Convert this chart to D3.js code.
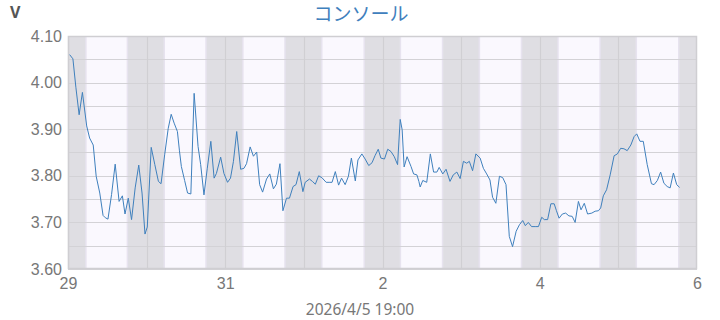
<!DOCTYPE html>
<html>
<head>
<meta charset="utf-8">
<script src="https://cdn.jsdelivr.net/npm/d3@7"></script>
<style>
  body { margin: 0; background: #fff; }
  svg { display: block; font-family: "Noto Sans", "DejaVu Sans", sans-serif; }
</style>
</head>
<body>
<div id="chart"></div>
<script>
// hours since 2026-03-29 00:00 and voltage readings
var hours = [0.5, 1.5, 2.4, 3.4, 4.4, 5.7, 6.6, 7.7, 8.6, 9.7, 10.7, 11.4, 12.2, 13.3, 14.4, 15.6, 16.6, 17.4, 18.4, 19.4,
  20.5, 21.6, 22.6, 23.5, 24.2, 25.4, 26.5, 27.6, 28.4, 29.5, 30.6, 31.5, 32.4, 33.4, 34.0, 34.6, 35.6, 36.5, 37.5, 38.5,
  39.7, 40.5, 41.5, 42.5, 43.6, 44.6, 45.3, 46.6, 47.6, 48.7, 49.6, 50.5, 51.5, 52.7, 53.7, 54.5, 55.6, 56.6, 57.6, 58.5,
  59.4, 60.6, 61.6, 62.7, 63.6, 64.7, 65.6, 66.7, 67.6, 68.7, 69.6, 70.6, 71.7, 72.4, 73.7, 74.6, 75.5, 76.5, 77.5, 78.8,
  79.7, 80.6, 81.6, 82.6, 83.5, 84.6, 85.6, 86.5, 87.7, 88.5, 89.7, 90.7, 91.8, 92.8, 93.7, 94.7, 95.5, 96.6, 97.6, 98.6,
  99.6, 100.6, 101.4, 102.0, 102.6, 103.5, 104.7, 105.5, 106.5, 107.1, 107.5, 108.3, 109.5, 110.6, 111.6, 112.6, 113.3, 114.4, 115.4, 116.6,
  117.6, 118.7, 119.7, 120.7, 121.7, 122.5, 123.5, 124.5, 125.8, 126.8, 127.8, 128.8, 129.6, 130.6, 131.7, 132.7, 133.7, 134.7, 135.7, 136.8,
  137.8, 138.8, 139.6, 140.5, 141.5, 142.6, 143.6, 144.6, 145.4, 146.4, 147.4, 148.4, 149.1, 149.9, 150.9, 151.9, 152.9, 153.9, 154.8, 155.8,
  156.6, 157.6, 158.6, 159.9, 160.9, 161.9, 162.6, 163.4, 164.4, 165.5, 166.7, 167.7, 168.7, 169.7, 170.7, 171.8, 172.8, 173.6, 174.6, 175.6,
  176.8, 178.1, 178.9, 179.9, 180.9, 181.9, 182.9, 183.8, 184.8, 185.8, 186.7];
var volts = [4.060, 4.051, 3.990, 3.931, 3.979, 3.907, 3.881, 3.866, 3.799, 3.763, 3.715, 3.710, 3.707, 3.760, 3.825, 3.745, 3.757, 3.718, 3.752, 3.706,
  3.774, 3.823, 3.763, 3.675, 3.690, 3.861, 3.824, 3.788, 3.783, 3.845, 3.902, 3.932, 3.913, 3.895, 3.855, 3.820, 3.790, 3.763, 3.761, 3.977,
  3.863, 3.824, 3.759, 3.815, 3.874, 3.795, 3.805, 3.840, 3.805, 3.786, 3.795, 3.831, 3.895, 3.814, 3.816, 3.826, 3.862, 3.842, 3.851, 3.781,
  3.765, 3.793, 3.804, 3.772, 3.782, 3.826, 3.725, 3.752, 3.752, 3.777, 3.781, 3.809, 3.766, 3.786, 3.793, 3.788, 3.782, 3.800, 3.796, 3.786,
  3.786, 3.786, 3.809, 3.780, 3.795, 3.781, 3.799, 3.838, 3.789, 3.834, 3.847, 3.836, 3.822, 3.828, 3.843, 3.857, 3.838, 3.836, 3.857, 3.852,
  3.841, 3.824, 3.921, 3.899, 3.819, 3.841, 3.820, 3.804, 3.802, 3.788, 3.776, 3.790, 3.786, 3.847, 3.808, 3.808, 3.818, 3.804, 3.814, 3.788,
  3.802, 3.808, 3.794, 3.831, 3.827, 3.831, 3.811, 3.847, 3.838, 3.816, 3.804, 3.791, 3.754, 3.741, 3.799, 3.796, 3.781, 3.670, 3.648, 3.681,
  3.695, 3.704, 3.693, 3.700, 3.691, 3.691, 3.691, 3.711, 3.706, 3.706, 3.740, 3.740, 3.725, 3.709, 3.718, 3.720, 3.714, 3.713, 3.700, 3.745,
  3.727, 3.741, 3.718, 3.720, 3.724, 3.725, 3.731, 3.757, 3.770, 3.802, 3.843, 3.847, 3.859, 3.858, 3.854, 3.866, 3.884, 3.890, 3.874, 3.874,
  3.824, 3.783, 3.781, 3.790, 3.808, 3.784, 3.777, 3.774, 3.806, 3.781, 3.775];

// sunrise / sunset (hour of day) for 3/29 .. 4/5
var sunrise = [5.7, 5.6, 5.6, 5.7, 5.7, 5.8, 5.8, 5.7];
var sunset = [17.9, 17.9, 18.0, 18.2, 18.1, 18.2, 18.2, 18.2];

var yTicks = [3.6, 3.7, 3.8, 3.9, 4.0, 4.1];
var xTickDays = [0, 2, 4, 6, 8];
var title = "コンソール";
var unit = "V";
var stamp = "2026/4/5 19:00";

var W = 720, H = 320;
var margin = {top: 36, right: 23, bottom: 51, left: 68};
var start = Date.UTC(2026, 2, 29);
var HOUR = 3600e3;

var x = d3.scaleUtc()
    .domain([new Date(start), new Date(start + 8 * 24 * HOUR)])
    .range([margin.left, W - margin.right]);
var y = d3.scaleLinear()
    .domain([3.6, 4.1])
    .range([H - margin.bottom, margin.top]);

var svg = d3.select("#chart").append("svg")
    .attr("width", W)
    .attr("height", H);

var data = hours.map(function (h, i) { return {t: new Date(start + h * HOUR), v: volts[i]}; });

//night background
svg.append("rect")
    .attr("x", x.range()[0]).attr("y", y.range()[1])
    .attr("width", x.range()[1] - x.range()[0])
    .attr("height", y.range()[0] - y.range()[1])
    .attr("fill", "#dfdee3");

//twilight + daytime bands
var days = sunrise.map(function (s, i) { return {rise: start + (i * 24 + s) * HOUR, set: start + (i * 24 + sunset[i]) * HOUR}; });
svg.selectAll("rect.twi").data(days).enter().append("rect")
    .attr("class", "twi")
    .attr("x", function (d) { return x(new Date(d.rise - 0.45 * HOUR)); })
    .attr("width", function (d) { return x(new Date(d.set + 0.45 * HOUR)) - x(new Date(d.rise - 0.45 * HOUR)); })
    .attr("y", y.range()[1]).attr("height", y.range()[0] - y.range()[1])
    .attr("fill", "#e7e3ef");
svg.selectAll("rect.day").data(days).enter().append("rect")
    .attr("class", "day")
    .attr("x", function (d) { return x(new Date(d.rise)); })
    .attr("width", function (d) { return x(new Date(d.set)) - x(new Date(d.rise)); })
    .attr("y", y.range()[1]).attr("height", y.range()[0] - y.range()[1])
    .attr("fill", "#faf8fe");

//grid
var hLines = d3.range(3.6, 4.1001, 0.05);
svg.append("g").selectAll("line").data(hLines).enter().append("line")
    .attr("x1", x.range()[0]).attr("x2", x.range()[1])
    .attr("y1", function (d) { return Math.round(y(d)) + 0.5; })
    .attr("y2", function (d) { return Math.round(y(d)) + 0.5; })
    .attr("stroke", "#d3d2d6").attr("stroke-width", 1.2);
var vLines = d3.utcDay.range(x.domain()[0], x.domain()[1]);
svg.append("g").selectAll("line").data(vLines).enter().append("line")
    .attr("x1", function (d) { return Math.round(x(d)) + 0.5; })
    .attr("x2", function (d) { return Math.round(x(d)) + 0.5; })
    .attr("y1", y.range()[1]).attr("y2", y.range()[0])
    .attr("stroke", "#d0cfd3").attr("stroke-width", 1.2);

//frame
svg.append("rect")
    .attr("x", x.range()[0] + 0.5).attr("y", y.range()[1] + 0.5)
    .attr("width", x.range()[1] - x.range()[0] - 1)
    .attr("height", y.range()[0] - y.range()[1] - 1)
    .attr("fill", "none").attr("stroke", "#cfced2").attr("stroke-width", 1.5);

//line
svg.append("path")
    .datum(data)
    .attr("fill", "none")
    .attr("stroke", "#3f80bd")
    .attr("stroke-width", 1)
    .attr("d", d3.line().x(function (d) { return x(d.t); }).y(function (d) { return y(d.v); }));

//axes
var yAxis = svg.append("g")
    .attr("transform", "translate(" + margin.left + ",0)")
    .call(d3.axisLeft(y).tickValues(yTicks).tickFormat(d3.format(".2f")).tickSize(0).tickPadding(6));
var xAxis = svg.append("g")
    .attr("transform", "translate(0," + (H - margin.bottom) + ")")
    .call(d3.axisBottom(x)
        .tickValues(xTickDays.map(function (d) { return new Date(start + d * 24 * HOUR); }))
        .tickFormat(d3.utcFormat("%-d")).tickSize(0).tickPadding(9));
[yAxis, xAxis].forEach(function (g) {
    g.select(".domain").remove();
    g.selectAll("text").attr("fill", "#777").style("font-size", "16px");
});

//labels
svg.append("text").attr("x", 10).attr("y", 18)
    .attr("fill", "#555").style("font-size", "16px").style("font-weight", "bold")
    .text(unit);
svg.append("text").attr("x", 361).attr("y", 21).attr("text-anchor", "middle")
    .attr("fill", "#3f80bd").style("font-size", "19px")
    .style("font-family", "'Noto Sans CJK JP', sans-serif")
    .text(title);
svg.append("text").attr("x", 360).attr("y", 315).attr("text-anchor", "middle")
    .attr("fill", "#777").style("font-size", "15.5px")
    .text(stamp);
</script>
</body>
</html>
